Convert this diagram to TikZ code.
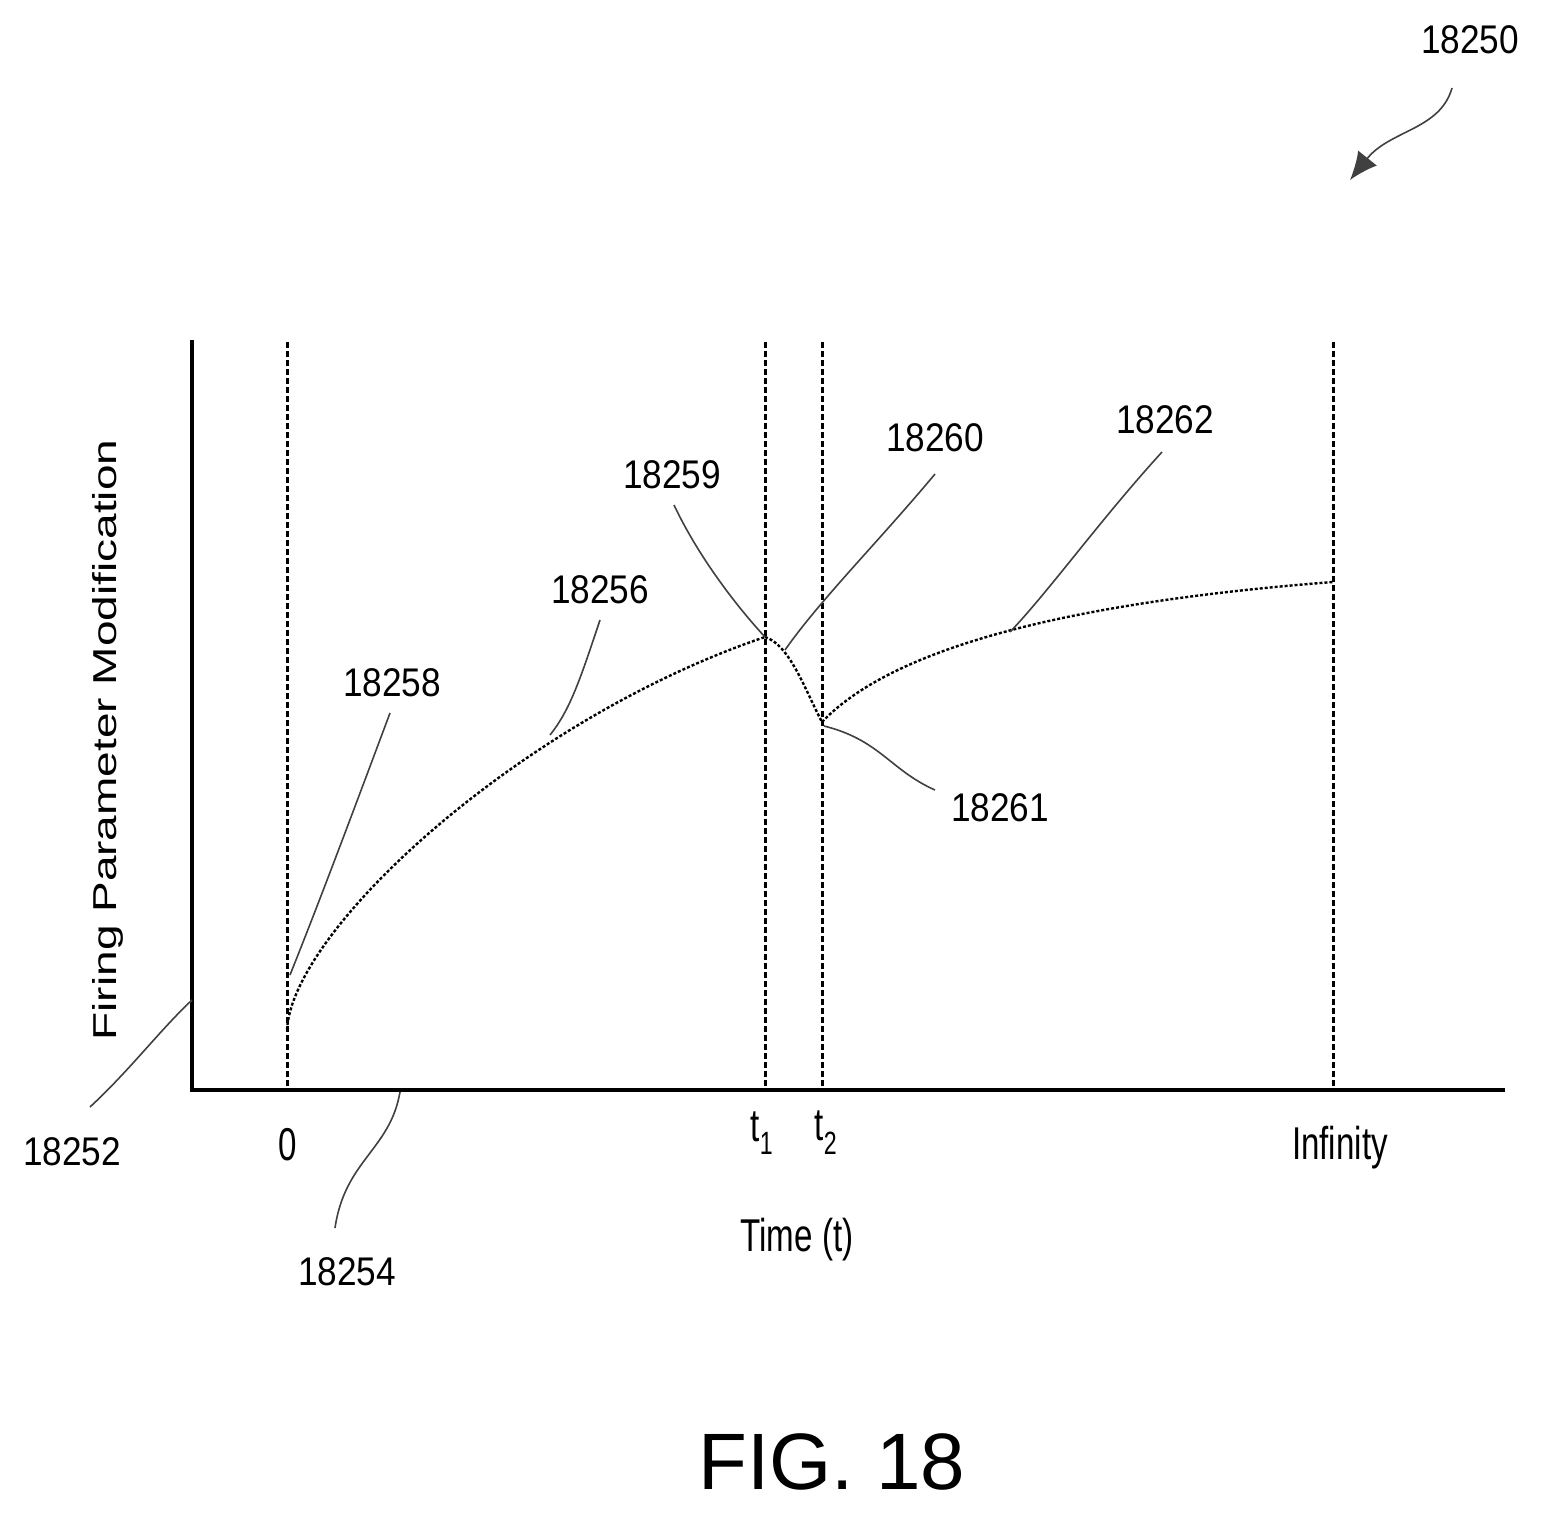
\documentclass[tikz,border=0pt]{standalone}
\usepackage{fontspec}
\setmainfont{Liberation Sans}
\usetikzlibrary{arrows.meta}
\begin{document}
\begin{tikzpicture}[x=1pt,y=-1pt,
  lbl/.style={font=\fontsize{40}{44}\selectfont, inner sep=0pt, xscale=0.88},
  big/.style={font=\fontsize{46}{50}\selectfont, inner sep=0pt, xscale=0.72},
  lead/.style={line width=1.6pt, draw=black!75},
  vdash/.style={line width=3pt, dash pattern=on 6pt off 3pt},
  crv/.style={line width=2.4pt, dash pattern=on 3pt off 2pt}]
\useasboundingbox (0,0) rectangle (1553,1522);
% axes
\coordinate (ytop) at (192,340);
\coordinate (orig) at (192,1090);
\coordinate (xend) at (1505,1090);
\draw[line width=3.5pt] (ytop) -- (orig) -- (xend);
% verticals
\foreach \xx in {287,765,822,1333}
  \draw[vdash] (\xx,342) -- (\xx,1086);
% curves
\coordinate (c0) at (287,1030);
\coordinate (c1) at (765,637);
\coordinate (c2) at (822,722);
\coordinate (c3) at (1333,582);
\draw[crv] (c0) .. controls (292,930) and (520,720) .. (c1);
\draw[crv] (c1) .. controls (790,645) and (805,690) .. (c2);
\draw[crv] (c2) .. controls (900,640) and (1100,600) .. (c3);
% labels
\node[lbl] (l18250) at (1470,40) {18250};
\node[lbl] (l18252) at (72,1152) {18252};
\node[lbl] (l18254) at (347,1272) {18254};
\node[lbl] (l18258) at (392,683) {18258};
\node[lbl] (l18256) at (600,590) {18256};
\node[lbl] (l18259) at (672,475) {18259};
\node[lbl] (l18260) at (935,438) {18260};
\node[lbl] (l18262) at (1165,420) {18262};
\node[lbl] (l18261) at (1000,808) {18261};
\node[big] (z) at (288,1145) {0};
\node[big] (t1) at (762,1133) {t\textsubscript{1}};
\node[big] (t2) at (826,1133) {t\textsubscript{2}};
\node[big] (inf) at (1340,1148) {Infinity};
\node[big] (time) at (797,1240) {Time (t)};
\node[big, rotate=90] (ylab) at (108,740) {Firing Parameter Modification};
\node[inner sep=0pt, font=\fontsize{80}{90}\selectfont] (fig) at (832,1462) {FIG. 18};
% leaders
\coordinate (p50) at (1452,88);
\coordinate (a50) at (1350,180);
\draw[lead, -{Latex[length=28pt,width=24pt]}] (p50) .. controls (1440,130) and (1390,130) .. (a50);
\coordinate (e52) at (192,1000);
\draw[lead] (90,1107) .. controls (130,1070) and (160,1030) .. (e52);
\coordinate (e54) at (400,1092);
\draw[lead] (335,1228) .. controls (345,1160) and (390,1150) .. (e54);
\coordinate (e58) at (290,975);
\draw[lead] (390,713) .. controls (350,820) and (320,900) .. (e58);
\coordinate (e56) at (550,735);
\draw[lead] (600,620) .. controls (580,680) and (570,710) .. (e56);
\draw[lead] (674,505) .. controls (700,560) and (740,610) .. (c1);
\coordinate (e60) at (785,650);
\draw[lead] (935,474) .. controls (880,540) and (820,600) .. (e60);
\coordinate (e62) at (1010,632);
\draw[lead] (1162,452) .. controls (1100,520) and (1050,590) .. (e62);
\coordinate (e61) at (824,726);
\draw[lead] (935,790) .. controls (890,770) and (880,740) .. (e61);
\end{tikzpicture}
\end{document}
